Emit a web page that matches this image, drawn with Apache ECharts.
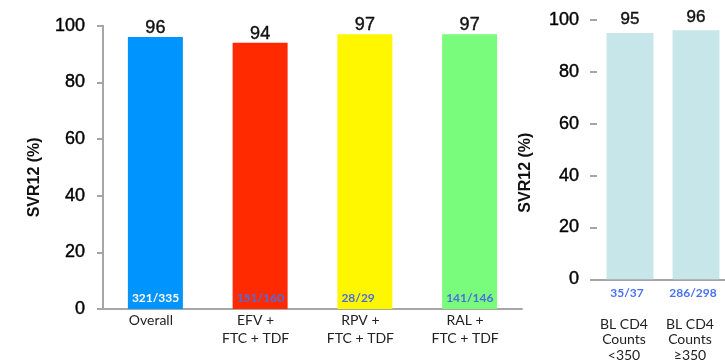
<!DOCTYPE html>
<html>
<head>
<meta charset="utf-8">
<script src="https://cdn.jsdelivr.net/npm/echarts@6/dist/echarts.min.js"></script>
<style>
  html, body { margin: 0; padding: 0; background: #fff; }
  #chart { width: 725px; height: 360px; }
</style>
</head>
<body>
<div id="chart"></div>
<script>
// SVR12 by regimen (left panel)
const regimens = ['Overall', 'EFV +\nFTC + TDF', 'RPV +\nFTC + TDF', 'RAL +\nFTC + TDF'];
const regimenSvr = [96, 94, 97, 97];
const regimenCounts = ['321/335', '151/160', '28/29', '141/146'];

// SVR12 by baseline CD4 count (right panel)
const cd4Groups = ['BL CD4\nCounts\n<350', 'BL CD4\nCounts\n\u2265350'];
const cd4Svr = [95, 96];
const cd4Counts = ['35/37', '286/298'];

// Styling
const regimenColors = ['#0094ff', '#ff2a00', '#fff700', '#79fc7c'];
const regimenCountColors = ['#ffffff', '#4a6ee0', '#4a6ee0', '#4a6ee0'];
const cd4Color = '#c6e6e9';
const axisGrey = '#a6a6a6';
const numFont = '"Liberation Sans", Arial, sans-serif';
const textFont = 'Lato, "Open Sans", sans-serif';
// slightly heavier digits
const heavy = { textBorderColor: '#000', textBorderWidth: 0.4 };

const chart = echarts.init(document.getElementById('chart'), null, { renderer: 'canvas' });

const valueAxisCommon = {
  type: 'value',
  min: 0,
  max: 100,
  interval: 20,
  splitLine: { show: false },
  axisLabel: Object.assign({ fontFamily: numFont, fontSize: 18, color: '#000', margin: 18 }, heavy),
  name: 'SVR12 (%)',
  nameLocation: 'middle',
  nameRotate: 90,
  nameTextStyle: { fontFamily: numFont, fontSize: 16, fontWeight: 'bold', color: '#111' }
};

chart.setOption({
  animation: false,
  backgroundColor: '#fff',
  grid: [
    { left: 103, top: 25.7, width: 419, height: 283.3, outerBoundsMode: 'none', containLabel: false },
    { left: 597, top: 20, width: 132, height: 259.3, outerBoundsMode: 'none', containLabel: false }
  ],
  xAxis: [
    {
      type: 'category',
      gridIndex: 0,
      data: regimens,
      axisLine: { show: true, lineStyle: { color: axisGrey, width: 2 } },
      axisTick: { show: false },
      axisLabel: {
        fontFamily: textFont, fontSize: 14, color: '#222', lineHeight: 18,
        margin: 2, padding: [0, 9, 0, 0]
      }
    },
    {
      type: 'category',
      gridIndex: 1,
      data: cd4Groups,
      axisLine: { show: true, lineStyle: { color: axisGrey, width: 2 } },
      axisTick: { show: false },
      axisLabel: {
        fontFamily: textFont, fontSize: 14, color: '#222', lineHeight: 15.5,
        margin: 37, padding: [0, 12, 0, 0]
      }
    }
  ],
  yAxis: [
    Object.assign({}, valueAxisCommon, {
      gridIndex: 0,
      axisLine: { show: true, lineStyle: { color: axisGrey, width: 2 } },
      axisTick: { show: true, length: 6, lineStyle: { color: axisGrey, width: 2 } },
      nameGap: 60,
      nameTextStyle: Object.assign({}, valueAxisCommon.nameTextStyle, { padding: [0, 20, 0, 0] })
    }),
    Object.assign({}, valueAxisCommon, {
      gridIndex: 1,
      axisLine: { show: false },
      axisTick: { show: true, length: 7, lineStyle: { color: axisGrey, width: 2 } },
      nameGap: 63,
      nameTextStyle: Object.assign({}, valueAxisCommon.nameTextStyle, { padding: [0, 46, 0, 0] })
    })
  ],
  series: [
    {
      type: 'bar',
      xAxisIndex: 0,
      yAxisIndex: 0,
      barCategoryGap: '47.5%',
      data: regimenSvr.map((v, i) => ({ value: v, itemStyle: { color: regimenColors[i] } })),
      label: Object.assign({
        show: true,
        position: 'top',
        distance: 0,
        fontFamily: numFont,
        fontSize: 18,
        color: '#111'
      }, heavy)
    },
    {
      // n/N counts written at the foot of each regimen bar
      type: 'bar',
      xAxisIndex: 0,
      yAxisIndex: 0,
      barGap: '-100%',
      barCategoryGap: '47.5%',
      silent: true,
      itemStyle: { color: 'transparent' },
      data: regimenSvr.map((v, i) => ({
        value: v,
        label: { color: regimenCountColors[i] }
      })),
      label: {
        show: true,
        position: [4, '100%'],
        verticalAlign: 'bottom',
        offset: [0, -5],
        fontFamily: textFont,
        fontSize: 12,
        fontWeight: 'bold',
        formatter: p => regimenCounts[p.dataIndex]
      },
      z: 3
    },
    {
      type: 'bar',
      xAxisIndex: 1,
      yAxisIndex: 1,
      barCategoryGap: '29%',
      data: cd4Svr,
      itemStyle: { color: cd4Color },
      label: Object.assign({
        show: true,
        position: 'top',
        distance: 5,
        fontFamily: numFont,
        fontSize: 17,
        color: '#111'
      }, heavy)
    },
    {
      // n/N counts written under the CD4 bars
      type: 'bar',
      xAxisIndex: 1,
      yAxisIndex: 1,
      barGap: '-100%',
      barCategoryGap: '29%',
      silent: true,
      itemStyle: { color: 'transparent' },
      data: cd4Svr,
      label: {
        show: true,
        position: 'bottom',
        distance: 8,
        offset: [-3, 0],
        fontFamily: textFont,
        fontSize: 12,
        fontWeight: 'bold',
        color: '#4a72f0',
        formatter: p => cd4Counts[p.dataIndex]
      },
      z: 3
    }
  ]
});
</script>
</body>
</html>
